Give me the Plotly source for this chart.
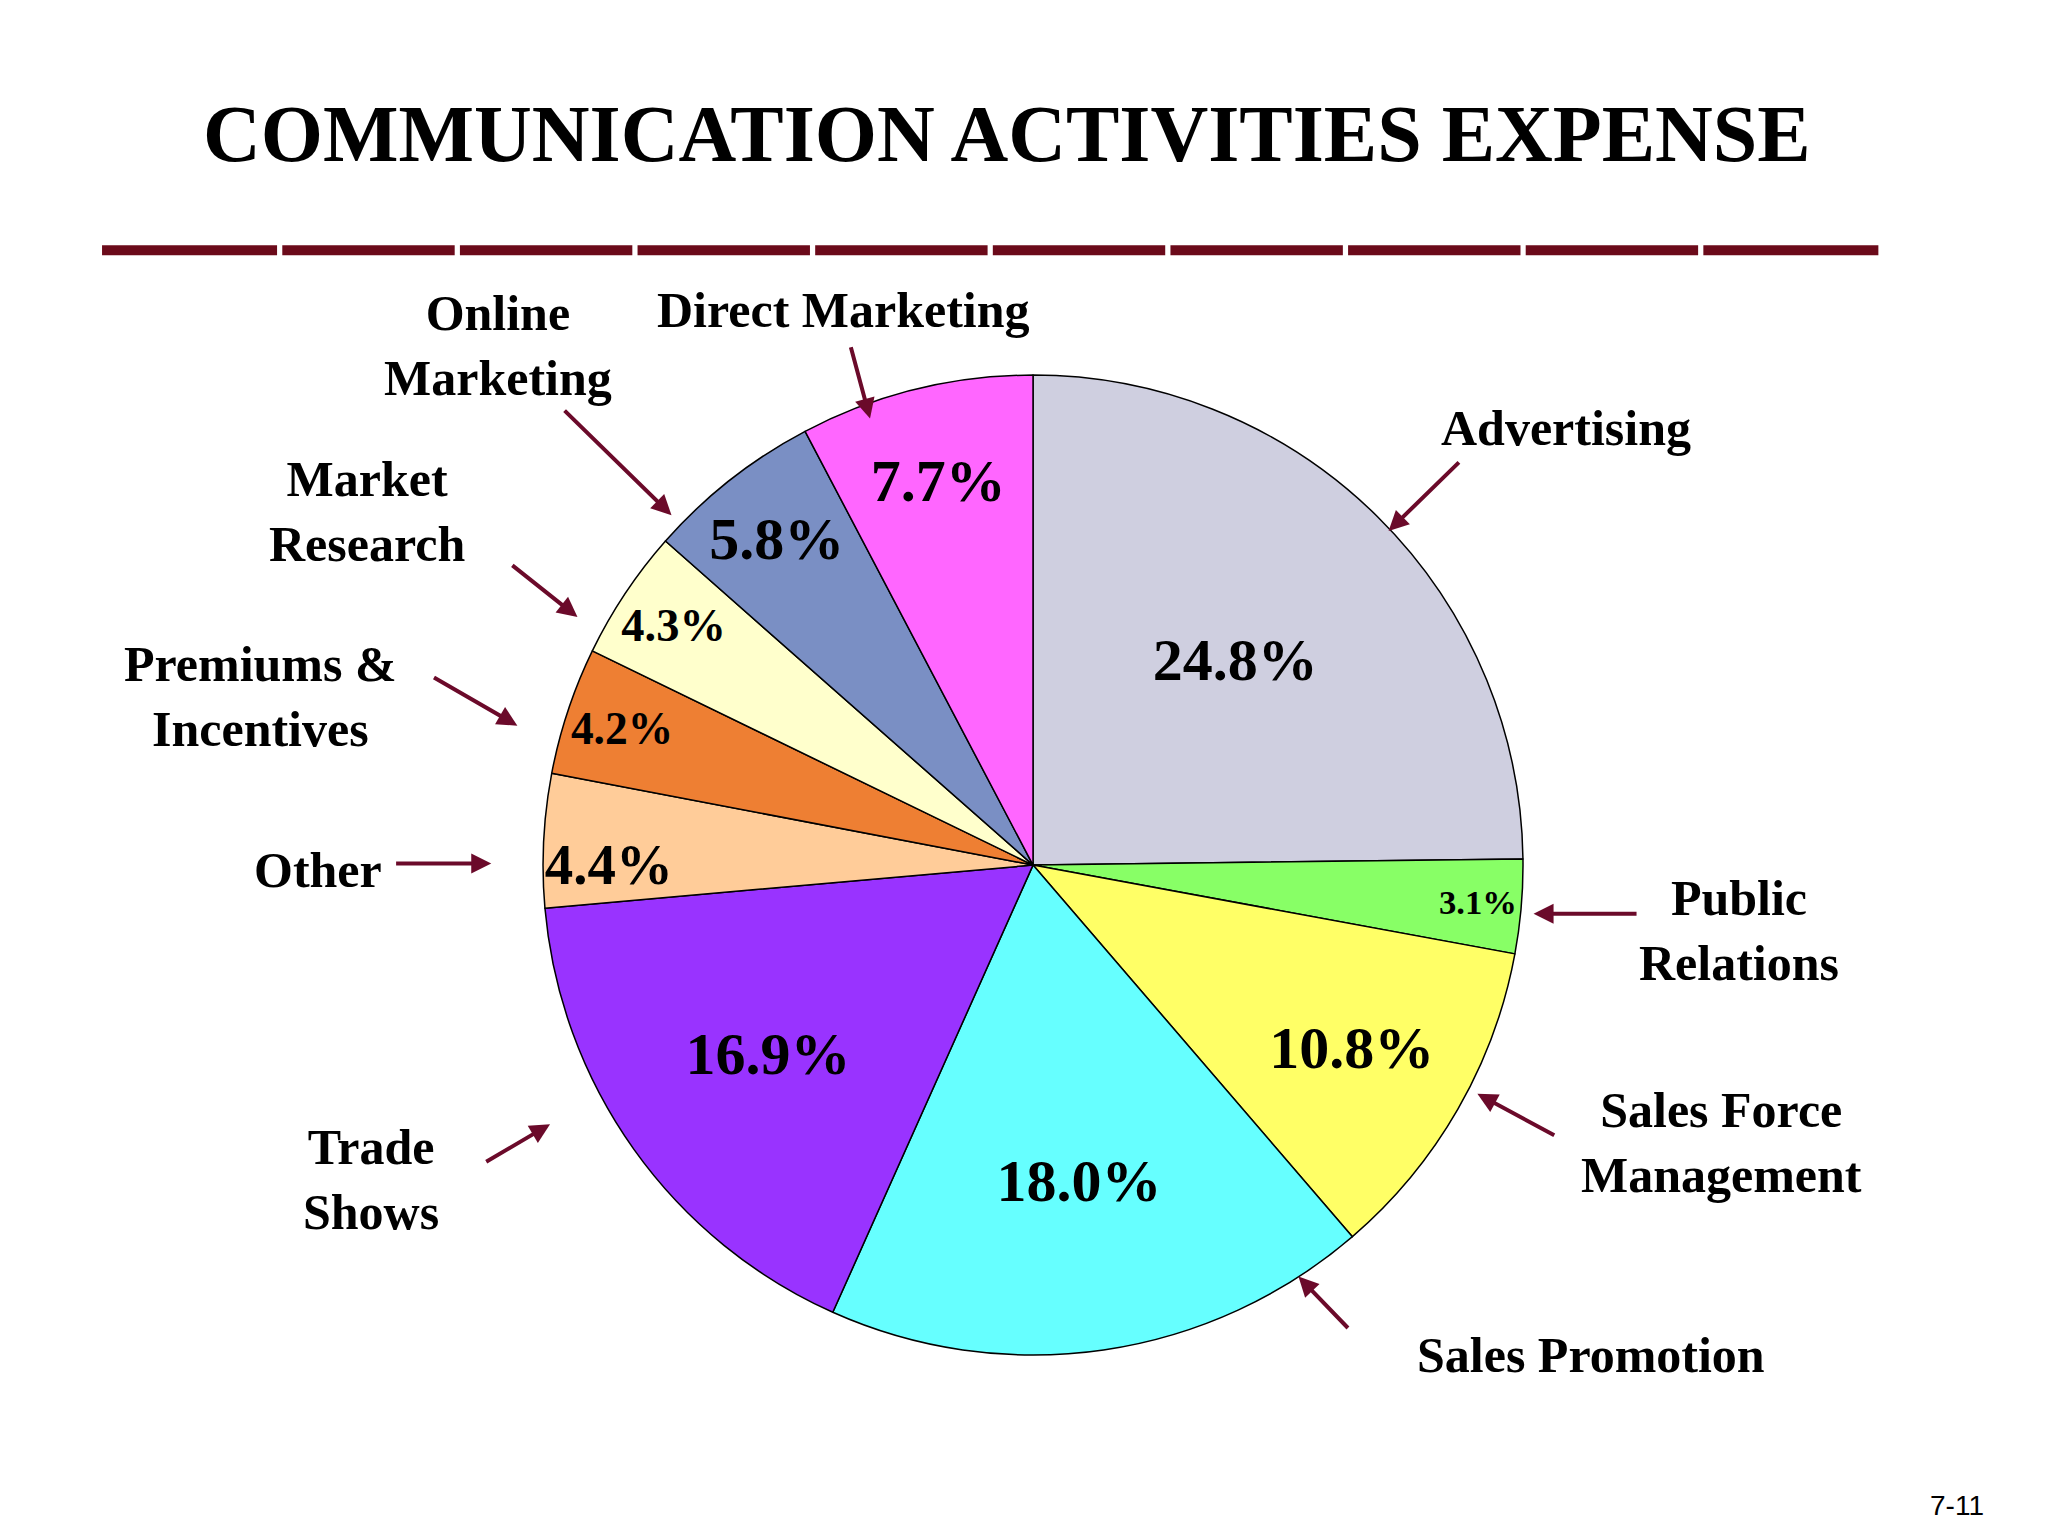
import plotly.graph_objects as go

categories = ["Advertising", "Public Relations", "Sales Force Management", "Sales Promotion",
              "Trade Shows", "Other", "Premiums & Incentives", "Market Research",
              "Online Marketing", "Direct Marketing"]
values = [24.8, 3.1, 10.8, 18.0, 16.9, 4.4, 4.2, 4.3, 5.8, 7.7]
colors = ["#CFCFE0", "#88FF66", "#FFFF66", "#66FFFF", "#9933FF", "#FFCC99",
          "#EE7F33", "#FFFFCC", "#7A8FC4", "#FF66FF"]
label_texts = ["Advertising", "Public<br>Relations", "Sales Force<br>Management", "Sales Promotion",
               "Trade<br>Shows", "Other", "Premiums &<br>Incentives", "Market<br>Research",
               "Online<br>Marketing", "Direct Marketing"]
# positions in reference pixel space (1568 x 1160)
label_pos = [(1193, 317), (1325, 697), (1312, 857), (1212, 1017), (278, 885),
             (237, 651), (193, 520), (275, 380), (375, 255), (640, 228)]
arrow_tail = [(1112, 342), (1248, 684), (1185, 852), (1027, 998), (365, 872),
              (296, 646), (325, 505), (385, 420), (425, 303), (645, 255)]
arrow_head = [(1057, 395), (1168, 684), (1125, 820), (988, 958), (415, 843),
              (370, 646), (390, 542), (436, 460), (508, 383), (660, 310)]

W, H = 1568, 1160
serif = "Liberation Serif, Times New Roman, serif"
fig = go.Figure()
fig.add_trace(go.Pie(
    values=values, labels=categories, sort=False, direction="clockwise", rotation=0,
    marker=dict(colors=colors, line=dict(color="black", width=1.5)),
    texttemplate="<b>%{value:.1f}%</b>", textposition="inside", insidetextorientation="horizontal",
    textfont=dict(family=serif, size=60, color="black"),
    domain=dict(x=[0.261, 0.740], y=[0.123, 0.761]), showlegend=False, hoverinfo="label+value"))

ann = []
for t, (x, y) in zip(label_texts, label_pos):
    ann.append(dict(x=x, y=y, xref="x", yref="y", text="<b>%s</b>" % t, showarrow=False,
                    font=dict(family=serif, size=50, color="black")))
for (tx, ty), (hx, hy) in zip(arrow_tail, arrow_head):
    ann.append(dict(x=hx, y=hy, ax=tx, ay=ty, xref="x", yref="y", axref="x", ayref="y",
                    text="", showarrow=True, arrowhead=2, arrowsize=1, arrowwidth=4,
                    arrowcolor="#6B0A2A"))
ann.append(dict(x=765, y=95, xref="x", yref="y", text="<b>COMMUNICATION ACTIVITIES EXPENSE</b>",
                showarrow=False, font=dict(family=serif, size=80, color="black")))
ann.append(dict(x=1492, y=1131, xref="x", yref="y", text="7-11", showarrow=False,
                font=dict(family="Liberation Sans, Arial", size=28, color="black")))

shapes = []
x0, x1, seg = 72, 1432, 10
step = (x1 - x0) / seg
for i in range(seg):
    shapes.append(dict(type="line", xref="x", yref="y", x0=x0 + i * step + (2 if i else 0),
                       x1=x0 + (i + 1) * step - (2 if i < seg - 1 else 0), y0=183, y1=183,
                       line=dict(color="#6B0A1A", width=10)))

fig.update_layout(
    width=2048, height=1536, margin=dict(l=0, r=0, t=0, b=0),
    paper_bgcolor="white", plot_bgcolor="rgba(0,0,0,0)",
    xaxis=dict(range=[0, W], visible=False, domain=[0, 1], fixedrange=True),
    yaxis=dict(range=[H, 0], visible=False, domain=[0, 1], fixedrange=True),
    annotations=ann, shapes=shapes)
fig.write_html("out.html")
